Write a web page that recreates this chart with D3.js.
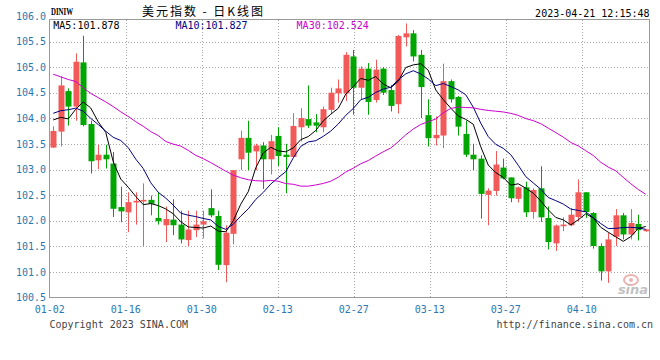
<!DOCTYPE html>
<html><head><meta charset="utf-8">
<script src="https://cdn.jsdelivr.net/npm/d3@7"></script>
<style>html,body{margin:0;padding:0;background:#fff;}svg{display:block;}</style>
</head><body>
<svg id="chart" width="660" height="360"></svg>
<script>
// ---------- DATA ----------
const dates = ["01-02","01-03","01-04","01-05","01-06","01-09","01-10","01-11","01-12","01-13",
"01-16","01-17","01-18","01-19","01-20","01-23","01-24","01-25","01-26","01-27",
"01-30","01-31","02-01","02-02","02-03","02-06","02-07","02-08","02-09","02-10",
"02-13","02-14","02-15","02-16","02-17","02-20","02-21","02-22","02-23","02-24",
"02-27","02-28","03-01","03-02","03-03","03-06","03-07","03-08","03-09","03-10",
"03-13","03-14","03-15","03-16","03-17","03-20","03-21","03-22","03-23","03-24",
"03-27","03-28","03-29","03-30","03-31","04-03","04-04","04-05","04-06","04-07",
"04-10","04-11","04-12","04-13","04-14","04-17","04-18","04-19","04-20","04-21"];
const opens = [103.430,103.742,104.534,104.231,105.094,103.890,103.182,103.291,103.118,102.268,
102.165,102.358,102.377,102.409,102.055,101.913,102.023,101.926,101.624,101.817,
101.926,102.248,102.094,101.134,101.746,103.201,103.620,103.356,103.472,103.201,
103.658,103.291,103.246,103.826,103.987,103.922,103.826,104.167,104.489,104.489,
105.210,104.599,104.972,104.360,104.972,104.553,104.277,105.584,105.661,105.242,
104.064,103.613,103.665,104.727,104.418,103.697,103.291,103.214,102.506,102.583,
103.040,102.847,102.429,102.654,102.171,102.635,102.055,101.559,101.894,101.913,
102.074,102.557,102.152,101.508,101.012,101.688,102.107,101.733,101.939,101.797];
const highs = [103.845,104.824,104.586,105.268,105.616,103.955,103.485,103.485,103.343,102.667,
102.557,102.557,102.731,102.493,102.557,102.280,102.422,102.197,102.197,102.197,
102.197,102.615,102.197,101.913,102.989,103.761,103.955,103.504,103.536,103.678,
103.826,103.504,104.103,104.199,104.644,104.083,104.231,104.599,104.760,105.294,
105.339,105.017,105.081,105.146,104.998,104.650,105.629,105.854,105.725,105.339,
104.373,104.038,105.069,104.760,104.438,103.955,103.504,103.278,102.635,103.362,
103.214,102.847,102.667,102.763,102.635,103.066,102.280,101.926,102.068,102.248,
102.809,102.557,102.171,101.559,101.765,102.229,102.152,102.229,102.119,101.843];
const lows = [103.420,103.452,103.858,103.955,103.845,102.924,103.008,103.021,102.074,101.971,
101.778,101.926,101.508,102.107,101.926,101.585,101.720,101.559,101.508,101.681,
101.656,102.068,101.038,100.799,101.540,102.989,102.989,102.989,102.622,102.905,
103.072,102.538,103.246,103.549,103.813,103.729,103.729,104.083,104.309,104.341,
104.071,104.373,104.071,104.309,104.457,104.135,104.096,105.403,105.114,104.006,
103.452,103.472,103.420,104.309,103.665,103.246,102.989,102.042,101.913,102.493,
102.809,102.364,102.358,102.074,102.042,101.978,101.443,101.411,101.797,101.894,
101.991,102.055,101.456,100.832,100.787,101.508,101.636,101.636,101.617,101.784];
const closes = [103.755,104.644,104.231,105.107,103.871,103.163,103.291,103.201,102.235,102.184,
102.364,102.390,102.409,102.332,101.991,102.036,101.913,101.636,101.830,101.926,
101.991,102.107,101.141,101.765,102.989,103.620,103.330,103.472,103.201,103.555,
103.266,103.246,103.852,104.006,103.858,103.858,104.180,104.502,104.586,105.242,
104.599,104.972,104.322,104.953,104.502,104.244,105.609,105.661,105.210,104.611,
103.613,103.678,104.727,104.373,103.839,103.291,103.201,102.525,102.590,103.098,
102.828,102.441,102.654,102.165,102.602,102.068,101.585,101.907,101.926,102.119,
102.557,102.171,101.508,101.012,101.636,102.107,101.733,101.958,101.817,101.830];
const ma5Lead = [103.97,104.02,103.99,104.18];
const ma10Lead = [104.10,104.15,104.17,104.20,104.14,104.00,103.88,103.75,103.63];
const ma30Lead = [104.863,104.811,104.760,104.721,104.599,104.489,104.405,104.322,104.231,104.128,
104.038,103.935,103.845,103.742,103.665,103.549,103.497,103.459,103.375,103.278,
103.214,103.137,103.053,102.969,102.892,102.841,102.802,102.783,102.776];
const yTicks = [100.5,101.0,101.5,102.0,102.5,103.0,103.5,104.0,104.5,105.0,105.5,106.0];
const xTickLabels = ["01-02","01-16","01-30","02-13","02-27","03-13","03-27","04-10"];
const maNames = ["MA5","MA10","MA30"];
const maPeriods = [5,10,30];
const maLegendValues = ["101.878","101.827","102.524"];
const symbol = "DINIW";
const title = "美元指数 - 日K线图";
const timestamp = "2023-04-21 12:15:48";
const copyright = "Copyright 2023 SINA.COM";
const siteUrl = "http://finance.sina.com.cn";

// ---------- STYLE / LAYOUT ----------
const L = 49.5, R = 649.5, T = 19.5, B = 297.5;
const upColor = "#f25a5a", downColor = "#00a600";
const maColors = ["#000000","#000080","#cc00cc"];
const labelColor = "#2a78b0";
const mono = "'DejaVu Sans Mono','Liberation Mono',monospace";

const svg = d3.select("#chart");
const n = dates.length;
const x = d3.scaleBand().domain(d3.range(n)).range([L, R]).paddingInner(0.2).paddingOuter(0.1);
const cx = i => x(i) + x.bandwidth() / 2;
const y = d3.scaleLinear().domain([100.5, 106]).range([297.6, 16]);
const gx = d3.scaleLinear().domain([0, 70]).range([49.7, 581.7]);
const tickIdx = xTickLabels.map(lbl => dates.indexOf(lbl));

// gridlines
const grid = svg.append("g").attr("stroke", "#a8a8a8").attr("stroke-dasharray", "1,2").attr("shape-rendering", "crispEdges");
grid.selectAll("line.h").data(yTicks.filter(v => v > 100.5 && v < 106)).join("line")
  .attr("x1", L).attr("x2", R)
  .attr("y1", d => Math.round(y(d)) + 0.5).attr("y2", d => Math.round(y(d)) + 0.5);
grid.selectAll("line.v").data(tickIdx.filter(i => i > 0)).join("line")
  .attr("x1", d => Math.round(gx(d)) + 0.5).attr("x2", d => Math.round(gx(d)) + 0.5)
  .attr("y1", T).attr("y2", B);

// frame
svg.append("rect").attr("x", L).attr("y", T).attr("width", R - L).attr("height", B - T)
  .attr("fill", "none").attr("stroke", "#999").attr("shape-rendering", "crispEdges");

// y labels
svg.append("g").selectAll("text").data(yTicks).join("text")
  .attr("x", 46).attr("y", d => y(d)).attr("dy", "0.35em")
  .attr("text-anchor", "end").attr("font-family", mono).attr("font-size", 10)
  .attr("fill", labelColor).text(d => d.toFixed(1));

// x labels
svg.append("g").selectAll("text").data(tickIdx).join("text")
  .attr("x", d => gx(d)).attr("y", 309.5).attr("dy", "0.35em")
  .attr("text-anchor", "middle").attr("font-family", mono).attr("font-size", 10)
  .attr("fill", labelColor).text(d => dates[d]);

// clip
svg.append("clipPath").attr("id", "plotclip").append("rect")
  .attr("x", L).attr("y", T).attr("width", R - L).attr("height", B - T);

// candles
const data = d3.range(n).map(i => ({i, o: opens[i], h: highs[i], l: lows[i], c: closes[i]}));
const cg = svg.append("g").attr("clip-path", "url(#plotclip)");
cg.selectAll("line.wick").data(data).join("line")
  .attr("x1", d => Math.round(cx(d.i)) + 0.5).attr("x2", d => Math.round(cx(d.i)) + 0.5)
  .attr("y1", d => y(d.h)).attr("y2", d => y(d.l))
  .attr("stroke", d => d.c >= d.o ? upColor : downColor).attr("stroke-width", 1);
cg.selectAll("rect.body").data(data).join("rect")
  .attr("x", d => Math.round(cx(d.i)) + 0.5 - 3).attr("width", 6)
  .attr("y", d => y(Math.max(d.o, d.c)))
  .attr("height", d => Math.max(1, Math.abs(y(d.o) - y(d.c))))
  .attr("fill", d => d.c >= d.o ? upColor : downColor);

// moving averages
function movingAvg(period, lead) {
  return d3.range(n).map(i => i < lead.length ? lead[i] : d3.mean(closes.slice(i - period + 1, i + 1)));
}
const maSeries = [movingAvg(maPeriods[0], ma5Lead), movingAvg(maPeriods[1], ma10Lead), movingAvg(maPeriods[2], ma30Lead)];
const line = d3.line().x((d, i) => cx(i)).y(d => y(d));
maSeries.forEach((s, k) => {
  cg.append("path").attr("d", line(s)).attr("fill", "none")
    .attr("stroke", maColors[k]).attr("stroke-width", 1);
});

// sina watermark
const wm = svg.append("g").attr("opacity", 0.6);
wm.append("ellipse").attr("cx", 631).attr("cy", 280).attr("rx", 7).attr("ry", 5)
  .attr("fill", "none").attr("stroke", "#e08080").attr("stroke-width", 2);
wm.append("circle").attr("cx", 631).attr("cy", 280).attr("r", 2).attr("fill", "#e08080");
wm.append("text").attr("x", 633).attr("y", 294).attr("text-anchor", "middle")
  .attr("font-family", "'DejaVu Sans',sans-serif").attr("font-style", "italic").attr("font-weight", "bold")
  .attr("font-size", 13).attr("fill", "#999").text("sina");

// header
svg.append("text").attr("x", 51).attr("y", 12).attr("dy", "0.35em")
  .attr("font-family", "'Liberation Serif',serif").attr("font-weight", "bold").attr("font-size", 9.5)
  .attr("textLength", 22).attr("lengthAdjust", "spacingAndGlyphs").attr("fill", "#000").text(symbol);
svg.append("text").attr("x", 142).attr("y", 12).attr("dy", "0.35em")
  .attr("font-family", "'Noto Sans CJK SC',sans-serif").attr("font-size", 12)
  .attr("textLength", 121).attr("lengthAdjust", "spacing").attr("fill", "#000").text(title);
svg.append("text").attr("x", 649.5).attr("y", 13).attr("dy", "0.35em").attr("text-anchor", "end")
  .attr("font-family", mono).attr("font-size", 10).attr("fill", "#000").text(timestamp);

// MA legend
const legendX = [53.3, 175.4, 296.6];
maNames.forEach((nm, k) => {
  svg.append("text").attr("x", legendX[k]).attr("y", 25).attr("dy", "0.35em")
    .attr("font-family", mono).attr("font-size", 10).attr("fill", maColors[k])
    .text(nm + ":" + maLegendValues[k]);
});

// footer
svg.append("text").attr("x", 49.5).attr("y", 324).attr("dy", "0.35em")
  .attr("font-family", mono).attr("font-size", 10).attr("fill", "#444").text(copyright);
svg.append("text").attr("x", 653).attr("y", 324).attr("dy", "0.35em").attr("text-anchor", "end")
  .attr("font-family", mono).attr("font-size", 10).attr("fill", "#444").text(siteUrl);
</script>
</body></html>
